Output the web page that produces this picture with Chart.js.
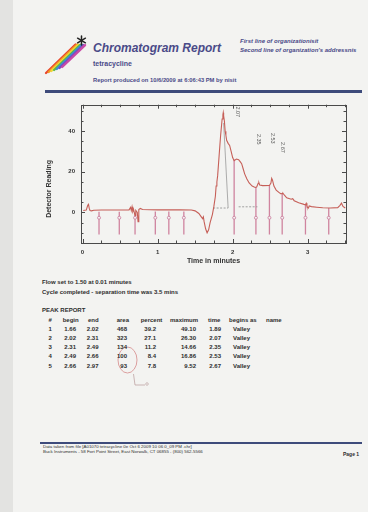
<!DOCTYPE html>
<html>
<head>
<meta charset="utf-8">
<script src="https://cdn.jsdelivr.net/npm/chart.js@4.4.1/dist/chart.umd.min.js"></script>
<style>
  html, body { margin: 0; padding: 0; }
  body { width: 368px; height: 512px; background: #e3e3e1; position: relative; overflow: hidden;
         font-family: "Liberation Sans", Arial, sans-serif; color: #2e2e2e; }
  #paper { position: absolute; left: 13px; top: 0; width: 355px; height: 512px; background: #f3f3f1; }
  .t { position: absolute; white-space: nowrap; font-weight: bold; line-height: 1; }
  .blue { color: #4a4a88; }
  .r { text-align: right; width: 40px; }
  .rule { position: absolute; height: 2.5px; background: #3e4b7b; }
  #c { position: absolute; left: 0; top: 95px; }
  svg { position: absolute; left: 0; top: 0; }
</style>
</head>
<body>
<div id="paper"></div>

<svg width="368" height="512" id="art"></svg>

<div class="t blue" style="left:93px;top:42px;font-size:12px;font-style:italic;">Chromatogram Report</div>
<div class="t blue" style="left:93px;top:60px;font-size:7px;">tetracycline</div>
<div class="t blue" style="left:93px;top:78px;font-size:5.8px;">Report produced on 10/6/2009 at 6:06:43 PM by nisit</div>
<div class="t blue" style="left:240px;top:38px;font-size:6px;font-style:italic;">First line of organizationisit</div>
<div class="t blue" style="left:240px;top:47px;font-size:6px;font-style:italic;">Second line of organization's addressnis</div>

<div class="rule" style="left:45px;top:90px;width:317px;"></div>

<canvas id="c" width="368" height="170"></canvas>

<div class="t" style="left:42px;top:278.5px;font-size:6px;">Flow set to 1.50 at 0.01 minutes</div>
<div class="t" style="left:42px;top:288.5px;font-size:6px;">Cycle completed - separation time was 3.5 mins</div>
<div class="t" style="left:42px;top:307px;font-size:6px;">PEAK REPORT</div>
<div id="table"></div>

<div class="rule" style="left:40px;top:441.5px;width:322px;height:2px;"></div>
<div class="t" style="left:43px;top:444.5px;font-size:4.4px;font-weight:normal;">Data taken from file [A01070 tetracycline 0e Oct 6 2009 10 06 0_09 PM .chr]</div>
<div class="t" style="left:43px;top:450px;font-size:4.4px;font-weight:normal;">Buck Instruments - 58 Fort Point Street, East Norwalk, CT 06855 - (800) 562-5566</div>
<div class="t" style="left:343px;top:452px;font-size:5px;">Page 1</div>

<script>
// chromatogram trace (minutes, detector reading)
const traceTime = [0.01, 0.05, 0.07, 0.08, 0.09, 0.10, 0.12, 0.15, 0.25, 0.50, 0.62, 0.64, 0.65, 0.66, 0.67,
  0.68, 0.70, 0.71, 0.73, 0.74, 0.75, 0.77, 0.80, 1.00, 1.30, 1.45, 1.50, 1.55, 1.58, 1.60, 1.61, 1.62,
  1.64, 1.66, 1.68, 1.70, 1.73, 1.75, 1.77, 1.78, 1.79, 1.80, 1.82, 1.84, 1.86, 1.87, 1.875, 1.88, 1.89,
  1.90, 1.91, 1.92, 1.94, 1.96, 1.98, 2.00, 2.02, 2.05, 2.08, 2.10, 2.12, 2.14, 2.16, 2.19, 2.22, 2.26,
  2.30, 2.32, 2.34, 2.35, 2.36, 2.40, 2.49, 2.51, 2.52, 2.53, 2.55, 2.58, 2.62, 2.64, 2.66, 2.67, 2.69,
  2.72, 2.78, 2.80, 2.82, 2.88, 2.95, 2.97, 2.98, 2.99, 3.01, 3.02, 3.05, 3.12, 3.20, 3.30, 3.40, 3.43,
  3.45, 3.47, 3.50];
const traceReading = [1.0, 1.2, 3.5, 4.0, 2.0, 1.0, 0.8, 1.1, 1.2, 1.2, 1.3, 2.5, 1.0, 2.8, 0.5,
  1.5, -1.5, 1.0, 0.0, -4.5, 1.5, 2.0, 1.5, 1.3, 1.3, 1.2, 0.8, -0.5, -2.0, -3.0, -2.2, -4.5,
  -8.0, -10.0, -8.5, -5.0, -1.0, 3.0, 8.0, 13.0, 15.0, 18.0, 28.0, 38.0, 46.0, 48.0, 49.1, 47.5, 45.0,
  40.0, 38.0, 35.5, 34.0, 33.0, 30.0, 27.0, 25.5, 26.3, 26.0, 25.0, 24.0, 21.5, 19.0, 16.5, 14.5, 13.0,
  12.3, 12.5, 14.3, 14.6, 13.5, 13.2, 13.3, 14.5, 16.8, 16.0, 13.0, 11.0, 9.8, 9.2, 9.3, 9.5, 8.5,
  7.2, 6.5, 6.8, 5.8, 4.8, 4.0, 3.8, 4.5, 3.0, 2.2, 3.2, 2.9, 2.6, 2.3, 2.2, 2.4, 3.5,
  4.6, 3.0, 2.2];

// peak / event markers
const markerTimes = [0.22, 0.49, 0.70, 0.97, 1.15, 1.35, 2.02, 2.31, 2.49, 2.66, 2.97, 3.28];
const markerTops = [0.4, 0.4, 0.0, 0.5, 0.5, 0.5, 26.0, 12.4, 13.4, 9.3, 3.8, 2.2];
const markerBottom = -10.8;
const markerRing = -2.6;

// baseline construction
const baseSegTimes = [[1.74, 1.94], [2.08, 2.33]];
const baseSegLevels = [[2.2, 2.2], [2.8, 2.8]];
const dropTimes = [1.88, 1.94];
const dropLevels = [44, 2.2];

// retention time labels
const peakLabels = ['2.07', '2.35', '2.53', '2.67'];
const peakLabelTimes = [2.07, 2.35, 2.53, 2.67];
const peakLabelLevels = [49.5, 36, 36.5, 32];

const xTickLabels = [0, 1, 2, 3];
const yTickLabels = [0, 20, 40];

// peak report table
const peakNo = [1, 2, 3, 4, 5];
const peakBegin = ['1.66', '2.02', '2.31', '2.49', '2.66'];
const peakEnd = ['2.02', '2.31', '2.49', '2.66', '2.97'];
const peakArea = ['468', '323', '134', '100', '93'];
const peakPercent = ['39.2', '27.1', '11.2', '8.4', '7.8'];
const peakMax = ['49.10', '26.30', '14.66', '16.86', '9.52'];
const peakTime = ['1.89', '2.07', '2.35', '2.53', '2.67'];
const peakBegins = ['Valley', 'Valley', 'Valley', 'Valley', 'Valley'];

// ---- table
var tbl = document.getElementById('table');
function cell(txt, left, top, right) {
  var d = document.createElement('div');
  d.className = 't' + (right ? ' r' : '');
  d.style.fontSize = '6px';
  d.style.left = (right ? left - 40 : left) + 'px';
  d.style.top = top + 'px';
  d.textContent = txt;
  tbl.appendChild(d);
}
var headTop = 317;
[['#', 48.5], ['begin', 62.7], ['end', 88], ['area', 116.7], ['percent', 140.7],
 ['maximum', 170], ['time', 208], ['begins as', 229], ['name', 266]].forEach(function (h) {
  cell(h[0], h[1], headTop, false);
});
var rowTops = [326, 335, 344, 353.3, 362.5];
peakNo.forEach(function (n, i) {
  var y = rowTops[i];
  cell(String(n), 48.5, y, false);
  cell(peakBegin[i], 76, y, true);
  cell(peakEnd[i], 98.5, y, true);
  cell(peakArea[i], 127, y, true);
  cell(peakPercent[i], 156, y, true);
  cell(peakMax[i], 196, y, true);
  cell(peakTime[i], 221, y, true);
  cell(peakBegins[i], 233, y, false);
});

// ---- logo and pencil marks
var svg = document.getElementById('art');
var stripeColors = ['#e8452c', '#f29a22', '#efd83a', '#5cb84a', '#3b8fd6', '#7a4cc0', '#c84aa6'];
var s = '';
stripeColors.forEach(function (c, i) {
  s += '<line x1="' + (46 + 2.7 * i) + '" y1="' + (73 - 1.0 * i) + '" x2="' + (75.5 + 1.6 * i) +
       '" y2="' + (44.5 + 0.1 * i) + '" stroke="' + c + '" stroke-width="2.3" stroke-linecap="round"/>';
});
s += '<g stroke="#222" stroke-width="1.5" stroke-linecap="round">' +
     '<line x1="81.5" y1="36" x2="81.5" y2="45"/>' +
     '<line x1="77.6" y1="38.2" x2="85.4" y2="42.8"/>' +
     '<line x1="77.6" y1="42.8" x2="85.4" y2="38.2"/></g>';
s += '<ellipse cx="127.5" cy="360" rx="9.5" ry="13" fill="none" stroke="#d68a8a" stroke-width="0.8"/>';
s += '<path d="M133.5 374 L135 385 L145 385" fill="none" stroke="#b79a9a" stroke-width="0.7"/>';
s += '<circle cx="147" cy="384" r="1.3" fill="none" stroke="#b79a9a" stroke-width="0.6"/>';
svg.innerHTML = s;

// ---- chart
function pts(xs, ys) { return xs.map(function (x, i) { return { x: x, y: ys[i] }; }); }

var markerPts = [];
markerTimes.forEach(function (t, i) {
  markerPts.push({ x: t, y: markerTops[i] }, { x: t, y: markerBottom }, { x: t, y: null });
});
var ringPts = markerTimes.map(function (t) { return { x: t, y: markerRing }; });
var basePts = [];
baseSegTimes.forEach(function (seg, i) {
  basePts.push({ x: seg[0], y: baseSegLevels[i][0] }, { x: seg[1], y: baseSegLevels[i][1] }, { x: seg[1], y: null });
});

var framePlugin = {
  id: 'frame',
  afterDatasetsDraw: function (chart) {
    var ctx = chart.ctx, a = chart.chartArea, xs = chart.scales.x, ys = chart.scales.y;
    ctx.save();
    ctx.strokeStyle = '#4a4a4a';
    ctx.lineWidth = 1;
    ctx.strokeRect(Math.round(a.left) + 0.5, Math.round(a.top) + 0.5,
                   Math.round(a.right - a.left), Math.round(a.bottom - a.top));
    ctx.beginPath();
    xs.ticks.forEach(function (t) {
      var x = Math.round(xs.getPixelForValue(t.value)) + 0.5;
      var len = xTickLabels.indexOf(t.value) >= 0 ? 4 : 2.5;
      ctx.moveTo(x, a.bottom); ctx.lineTo(x, a.bottom - len);
      ctx.moveTo(x, a.top); ctx.lineTo(x, a.top + len);
    });
    ys.ticks.forEach(function (t) {
      var y = Math.round(ys.getPixelForValue(t.value)) + 0.5;
      var len = yTickLabels.indexOf(t.value) >= 0 ? 4 : 2.5;
      ctx.moveTo(a.left, y); ctx.lineTo(a.left + len, y);
      ctx.moveTo(a.right, y); ctx.lineTo(a.right - len, y);
    });
    ctx.stroke();

    // retention time labels
    ctx.fillStyle = '#5a5a5a';
    ctx.font = '5.5px "Liberation Sans", Arial, sans-serif';
    ctx.textAlign = 'center';
    ctx.textBaseline = 'middle';
    peakLabels.forEach(function (lab, i) {
      ctx.save();
      ctx.translate(xs.getPixelForValue(peakLabelTimes[i]), ys.getPixelForValue(peakLabelLevels[i]));
      ctx.rotate(Math.PI / 2);
      ctx.fillText(lab, 0, 0);
      ctx.restore();
    });

    // y axis title
    ctx.save();
    ctx.fillStyle = '#333';
    ctx.font = 'bold 7px "Liberation Sans", Arial, sans-serif';
    ctx.translate(49, (a.top + a.bottom) / 2 + 15);
    ctx.rotate(-Math.PI / 2);
    ctx.fillText('Detector Reading', 0, 0);
    ctx.restore();
    ctx.restore();
  }
};

new Chart(document.getElementById('c'), {
  type: 'line',
  data: {
    datasets: [
      { data: pts(traceTime, traceReading), borderColor: '#c65f58', borderWidth: 1.1,
        pointRadius: 0, tension: 0 },
      { data: dropTimes.map(function (t, i) { return { x: t, y: dropLevels[i] }; }),
        borderColor: '#8c8c8c', borderWidth: 0.7, pointRadius: 0 },
      { data: basePts, borderColor: '#8a8a8a', borderWidth: 0.8, borderDash: [2, 1.5],
        pointRadius: 0, spanGaps: false },
      { data: ringPts, showLine: false, pointRadius: 1.5, pointBorderWidth: 0.8,
        pointBorderColor: '#c9789a', pointBackgroundColor: '#f3f3f1' },
      { data: markerPts, borderColor: 'rgba(201,112,145,0.85)', borderWidth: 1.3,
        pointRadius: 0, spanGaps: false }
    ]
  },
  options: {
    responsive: false,
    animation: false,
    devicePixelRatio: 1,
    layout: { padding: { top: 9.7, right: 22, left: 0, bottom: 0 } },
    plugins: { legend: { display: false }, tooltip: { enabled: false } },
    scales: {
      x: {
        type: 'linear', min: -0.02, max: 3.51,
        afterFit: function (scale) { scale.height = 22; },
        grid: { display: false, drawTicks: false },
        border: { display: false },
        ticks: {
          stepSize: 0.25, autoSkip: false, includeBounds: false, maxRotation: 0, padding: 6,
          color: '#333', font: { family: '"Liberation Sans", Arial', size: 6, weight: 'bold' },
          callback: function (v) { return xTickLabels.indexOf(v) >= 0 ? String(v) : ''; }
        },
        title: { display: true, text: 'Time in minutes', color: '#333', padding: { top: 0, bottom: 0 },
          font: { family: '"Liberation Sans", Arial', size: 7, weight: 'bold' } }
      },
      y: {
        type: 'linear', min: -15, max: 53,
        afterFit: function (scale) { scale.width = 81; },
        grid: { display: false, drawTicks: false },
        border: { display: false },
        ticks: {
          stepSize: 5, autoSkip: false, includeBounds: false, padding: 6,
          color: '#333', font: { family: '"Liberation Sans", Arial', size: 6, weight: 'bold' },
          callback: function (v) { return yTickLabels.indexOf(v) >= 0 ? String(v) : ''; }
        }
      }
    }
  },
  plugins: [framePlugin]
});
</script>
</body>
</html>
